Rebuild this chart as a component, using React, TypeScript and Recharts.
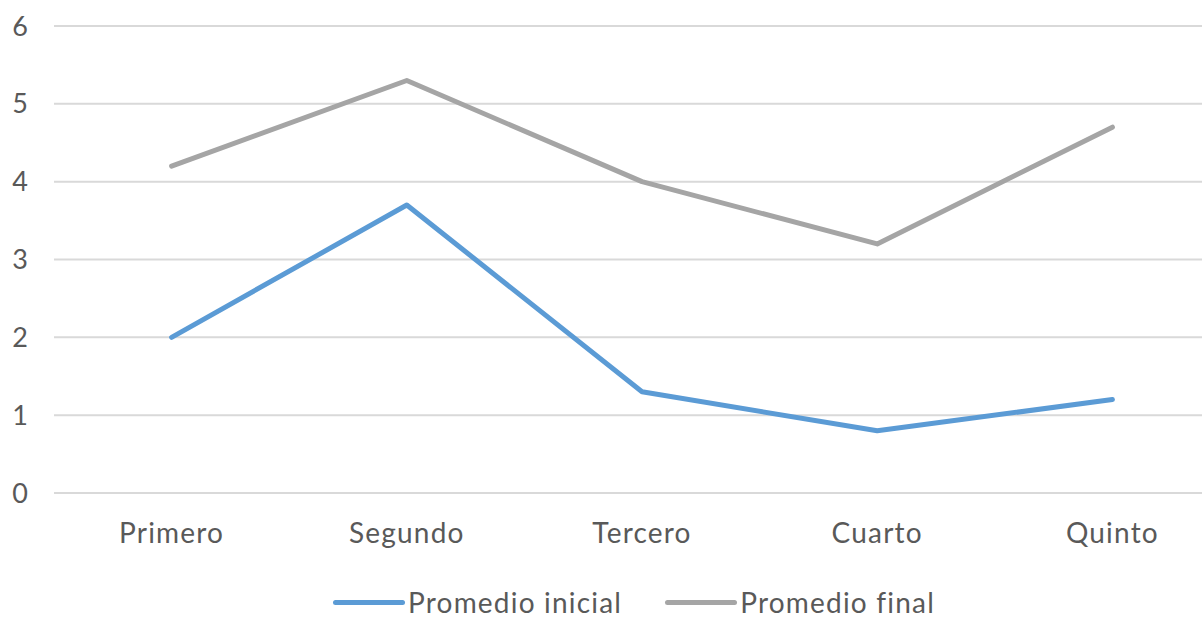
import { LineChart, Line, XAxis, YAxis, CartesianGrid, Legend } from "recharts";

const grades = ["Primero", "Segundo", "Tercero", "Cuarto", "Quinto"];
const initialAvg = [2.0, 3.7, 1.3, 0.8, 1.2];
const finalAvg = [4.2, 5.3, 4.0, 3.2, 4.7];
const yTicks = [0, 1, 2, 3, 4, 5, 6];

const data = grades.map((g, i) => ({
  grade: g,
  inicial: initialAvg[i],
  final: finalAvg[i],
}));

const FONT = "Lato, 'Open Sans', sans-serif";
const TEXT = "#595959";

const series = [
  { key: "inicial", name: "Promedio inicial", color: "#5b9bd5" },
  { key: "final", name: "Promedio final", color: "#a5a5a5" },
];

function LegendBox() {
  return (
    <div
      style={{
        height: 56,
        display: "flex",
        justifyContent: "flex-start",
        alignItems: "center",
        paddingTop: 22,
        paddingLeft: 333,
        boxSizing: "border-box",
        fontFamily: FONT,
        fontSize: 28,
        lineHeight: "30px",
        letterSpacing: 1.2,
        color: TEXT,
        gap: 43,
      }}
    >
      {series.map((s) => (
        <div key={s.key} style={{ display: "flex", alignItems: "center" }}>
          <div
            style={{
              width: 72,
              height: 5,
              background: s.color,
              borderRadius: 3,
              marginRight: 3,
            }}
          />
          <span>{s.name}</span>
        </div>
      ))}
    </div>
  );
}

export default function App() {
  return (
    <div
      style={{
        position: "absolute",
        left: 0,
        top: 0,
        width: 1202,
        height: 619,
        overflow: "hidden",
        background: "#fff",
      }}
    >
      <LineChart
        width={1230}
        height={619}
        data={data}
        margin={{ top: 26, right: 0, left: 0, bottom: 0 }}
      >
        <CartesianGrid vertical={false} stroke="#d9d9d9" strokeWidth={2} />
        <XAxis
          dataKey="grade"
          scale="band"
          axisLine={{ stroke: "#d9d9d9", strokeWidth: 2 }}
          tickLine={false}
          height={70}
          tickMargin={24}
          tick={{ fill: TEXT, fontSize: 28, fontFamily: FONT, letterSpacing: 1.2 }}
        />
        <YAxis
          domain={[0, 6]}
          ticks={yTicks}
          width={54}
          axisLine={false}
          tickLine={false}
          tickMargin={20}
          tick={{ fill: TEXT, fontSize: 27, fontFamily: FONT }}
        />
        <Legend verticalAlign="bottom" content={() => <LegendBox />} />
        {series.map((s) => (
          <Line
            key={s.key}
            dataKey={s.key}
            name={s.name}
            stroke={s.color}
            strokeWidth={5}
            strokeLinecap="round"
            strokeLinejoin="round"
            dot={false}
            activeDot={false}
            isAnimationActive={false}
          />
        ))}
      </LineChart>
    </div>
  );
}
